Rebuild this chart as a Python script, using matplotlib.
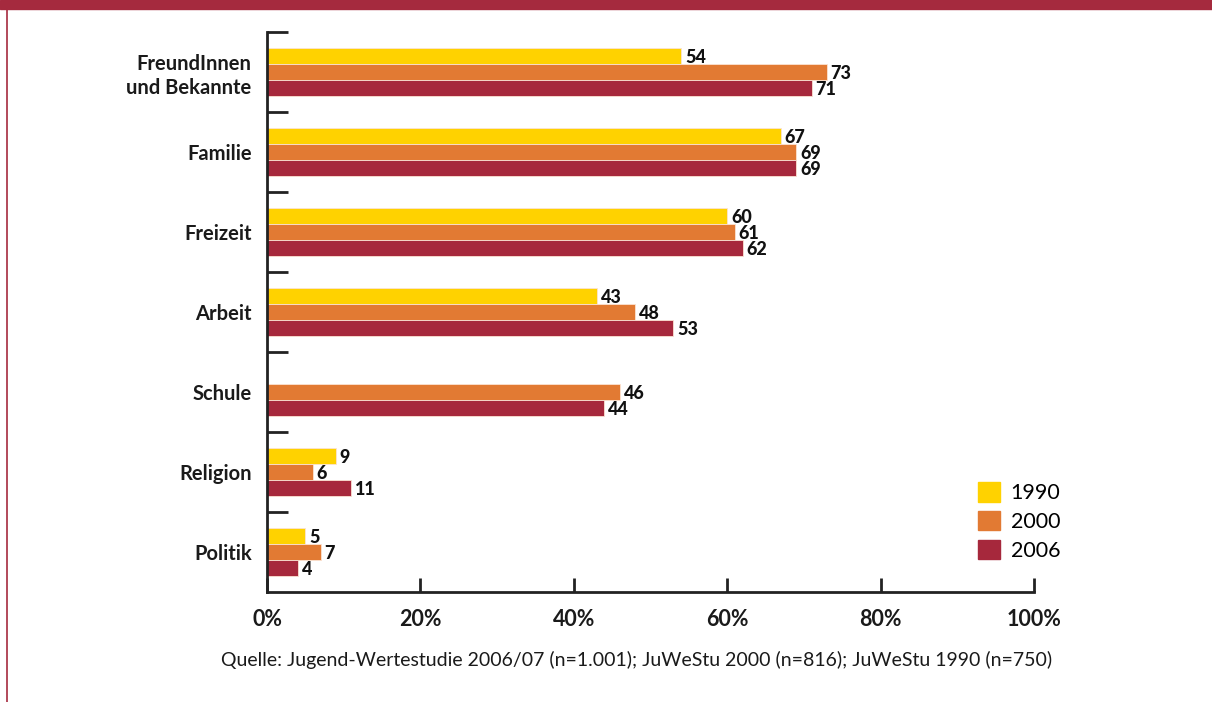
import numpy as np
import matplotlib.pyplot as plt
from matplotlib.patches import Rectangle
from matplotlib.lines import Line2D

plt.rcParams['font.family'] = ['Lato', 'DejaVu Sans']

categories = ['FreundInnen\nund Bekannte', 'Familie', 'Freizeit', 'Arbeit', 'Schule', 'Religion', 'Politik']
years = ['1990', '2000', '2006']
v1990 = [54, 67, 60, 43, None, 9, 5]
v2000 = [73, 69, 61, 48, 46, 6, 7]
v2006 = [71, 69, 62, 53, 44, 11, 4]
colors = ['#FFD200', '#E27A33', '#A6283C']
xticks = [0, 20, 40, 60, 80, 100]
source = 'Quelle: Jugend-Wertestudie 2006/07 (n=1.001); JuWeStu 2000 (n=816); JuWeStu 1990 (n=750)'

fig = plt.figure(figsize=(12.12, 7.02), dpi=100)
ax = fig.add_axes([0.2203, 0.1567, 0.6328, 0.7977])

# frame decoration: red banner on top, thin red line on left
fig.patches.append(Rectangle((0, 0.987), 1, 0.013, transform=fig.transFigure, color='#A52A3E', zorder=0))
fig.lines.append(Line2D([0.006, 0.006], [0, 0.987], transform=fig.transFigure, color='#A52A3E', lw=1.2))

y = np.arange(len(categories))
step = 0.2
h = 0.19
for i, (vals, col) in enumerate(zip([v1990, v2000, v2006], colors)):
    for j, v in enumerate(vals):
        if v is None:
            continue
        yy = y[j] + (i - 1) * step
        ax.barh(yy, v, height=h, color=col, edgecolor='#FBE3D2', linewidth=0.6)
        ax.text(v + 0.5, yy + 0.02, str(v), va='center', ha='left', fontsize=13,
                fontweight='black', color='#111111')

ax.set_xlim(0, 100)
ax.set_ylim(len(categories) - 0.5, -0.5)
ax.set_yticks(y)
ax.set_yticklabels(categories, fontsize=14.5, fontweight='bold', color='#1a1a1a', linespacing=1.25)
ax.set_yticks(np.arange(-0.5, len(categories) - 0.5, 1), minor=True)
ax.tick_params(axis='y', which='major', length=0, pad=11)
ax.tick_params(axis='y', which='minor', direction='in', length=15, width=2, color='#222222')
ax.set_xticks(xticks)
ax.set_xticklabels([f'{t}%' for t in xticks], fontsize=15.5, fontweight='bold', color='#1a1a1a')
ax.tick_params(axis='x', direction='in', length=10, width=2, color='#222222', pad=12)

for s in ['top', 'right']:
    ax.spines[s].set_visible(False)
for s in ['left', 'bottom']:
    ax.spines[s].set_linewidth(2)
    ax.spines[s].set_color('#222222')

handles = [Rectangle((0, 0), 1, 1, color=c) for c in colors]
fig.legend(handles, years, loc='upper left', bbox_to_anchor=(0.800, 0.325), frameon=False,
           fontsize=15.5, handlelength=1.0, handleheight=1.0, handletextpad=0.5, labelspacing=0.35,
           borderaxespad=0)

fig.text(0.525, 0.06, source, ha='center', va='center', fontsize=14, color='#1a1a1a')

fig.savefig('out.png', dpi=100)
